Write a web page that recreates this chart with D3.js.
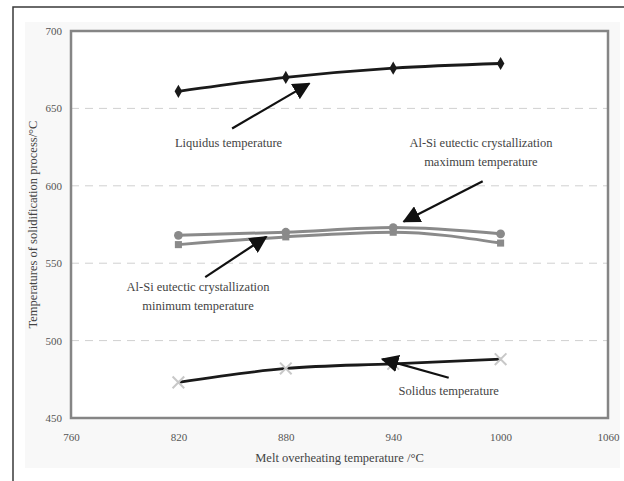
<!DOCTYPE html>
<html lang="en">
<head>
    <meta charset="UTF-8">
    <title>Solidification temperatures</title>
    <script src="https://cdn.jsdelivr.net/npm/d3@7/dist/d3.min.js"></script>
</head>
<style>
    body { margin: 0; background: #ffffff; }
    text { font-family: "Liberation Serif", "Times New Roman", serif; }
</style>
<body>
<div id="output"></div>

<script>

// melt overheating temperatures (x) and series values
var overheat = [820, 880, 940, 1000];
var liquidus = [661, 670, 676, 679];
var eutecticMax = [568, 570, 573, 569];
var eutecticMin = [562, 567, 570, 563];
var solidus = [473, 482, 485, 488];

var xTicks = [760, 820, 880, 940, 1000, 1060];
var yTicks = [450, 500, 550, 600, 650, 700];

// annotation text and arrows, in data units: [tailX, tailY, tipX, tipY]
var notes = [
    { lines: ["Liquidus temperature"], x: 848, y: 625, arrow: [850, 637, 893, 666] },
    { lines: ["Al-Si eutectic crystallization", "maximum temperature"], x: 989, y: 625, arrow: [990, 603, 946, 577] },
    { lines: ["Al-Si eutectic crystallization", "minimum temperature"], x: 831, y: 532, arrow: [835, 541, 869, 567] },
    { lines: ["Solidus temperature"], x: 971, y: 465, arrow: [971, 476, 934, 488] }
];

var w = 624, h = 481;
var plotLeft = 71, plotRight = 608, plotTop = 31, plotBottom = 418;

var svg = d3.select("#output")
        .append("svg")
        .attr("width", w)
        .attr("height", h);

// page panel and frame
svg.append("rect")
        .attr("x", 25).attr("y", 22)
        .attr("width", 595).attr("height", 446)
        .attr("fill", "#f8f8f8");
svg.append("path")
        .attr("d", "M13,481 L13,7 L624,7")
        .attr("fill", "none")
        .attr("stroke", "#3a3a3a")
        .attr("stroke-width", 1.5);

var xScale = d3.scaleLinear().domain([760, 1060]).range([plotLeft, plotRight]);
var yScale = d3.scaleLinear().domain([450, 700]).range([plotBottom, plotTop]);

svg.append("rect")
        .attr("x", plotLeft).attr("y", plotTop)
        .attr("width", plotRight - plotLeft).attr("height", plotBottom - plotTop)
        .attr("fill", "#ffffff");

// dashed grid
svg.append("g").selectAll("line")
        .data(yTicks.slice(1, -1))
        .enter().append("line")
        .attr("x1", plotLeft).attr("x2", plotRight)
        .attr("y1", function(d){ return yScale(d); })
        .attr("y2", function(d){ return yScale(d); })
        .attr("stroke", "#d0d0d0")
        .attr("stroke-width", 1)
        .attr("stroke-dasharray", "8,6");

// axes (labels only, frame drawn separately)
var yAxis = svg.append("g")
        .attr("transform", "translate(" + plotLeft + ",0)")
        .call(d3.axisLeft(yScale).tickValues(yTicks).tickFormat(d3.format("d")).tickSize(0).tickPadding(9));
var xAxis = svg.append("g")
        .attr("transform", "translate(0," + plotBottom + ")")
        .call(d3.axisBottom(xScale).tickValues(xTicks).tickFormat(d3.format("d")).tickSize(0).tickPadding(15));
[xAxis, yAxis].forEach(function(a){
    a.select(".domain").remove();
    a.selectAll("text")
            .attr("fill", "#555")
            .style("font-size", "11px")
            .style("font-family", "Liberation Serif, serif");
});

svg.append("rect")
        .attr("x", plotLeft).attr("y", plotTop)
        .attr("width", plotRight - plotLeft).attr("height", plotBottom - plotTop)
        .attr("fill", "none")
        .attr("stroke", "#858585")
        .attr("stroke-width", 2.5);

svg.append("text")
        .attr("x", (plotLeft + plotRight) / 2)
        .attr("y", 462)
        .attr("text-anchor", "middle")
        .attr("fill", "#444")
        .style("font-size", "12.5px")
        .text("Melt overheating temperature /\u00B0C");

svg.append("text")
        .attr("transform", "translate(37," + ((plotTop + plotBottom) / 2) + ") rotate(-90)")
        .attr("text-anchor", "middle")
        .attr("fill", "#444")
        .style("font-size", "12.5px")
        .text("Temperatures of solidification process/\u00B0C");

// series
var line = d3.line()
        .x(function(d, i){ return xScale(overheat[i]); })
        .y(function(d){ return yScale(d); })
        .curve(d3.curveMonotoneX);

var series = [
    { values: eutecticMin, stroke: "#8a8a8a", width: 3, symbol: d3.symbolSquare, size: 50, fill: "#8a8a8a", markerStroke: "none" },
    { values: eutecticMax, stroke: "#8a8a8a", width: 3, symbol: d3.symbolCircle, size: 60, fill: "#8a8a8a", markerStroke: "none" },
    { values: liquidus, stroke: "#1a1a1a", width: 2.8, symbol: d3.symbolDiamond, size: 50, fill: "#1a1a1a", markerStroke: "none" },
    { values: solidus, stroke: "#1a1a1a", width: 2.8, symbol: d3.symbolX, size: 90, fill: "none", markerStroke: "#c8c8c8" }
];

var chartLayer = svg.append("g");
series.forEach(function(s){
    chartLayer.append("path")
            .attr("d", line(s.values))
            .attr("fill", "none")
            .attr("stroke", s.stroke)
            .attr("stroke-width", s.width);
    chartLayer.append("g").selectAll("path")
            .data(s.values)
            .enter().append("path")
            .attr("transform", function(d, i){ return "translate(" + xScale(overheat[i]) + "," + yScale(d) + ")"; })
            .attr("d", d3.symbol().type(s.symbol).size(s.size))
            .attr("fill", s.fill)
            .attr("stroke", s.markerStroke)
            .attr("stroke-width", 2);
});

// annotations
svg.append("defs").append("marker")
        .attr("id", "head")
        .attr("viewBox", "0 0 10 10")
        .attr("refX", 9).attr("refY", 5)
        .attr("markerWidth", 8).attr("markerHeight", 8)
        .attr("markerUnits", "strokeWidth")
        .attr("orient", "auto")
        .append("path")
        .attr("d", "M0,0 L10,5 L0,10 Z")
        .attr("fill", "#111");

var noteLayer = svg.append("g");
notes.forEach(function(n){
    noteLayer.append("line")
            .attr("x1", xScale(n.arrow[0])).attr("y1", yScale(n.arrow[1]))
            .attr("x2", xScale(n.arrow[2])).attr("y2", yScale(n.arrow[3]))
            .attr("stroke", "#111")
            .attr("stroke-width", 2.2)
            .attr("marker-end", "url(#head)");
    n.lines.forEach(function(t, k){
        noteLayer.append("text")
                .attr("x", xScale(n.x))
                .attr("y", yScale(n.y) + k * 18.5)
                .attr("text-anchor", "middle")
                .attr("fill", "#444")
                .style("font-size", "12.5px")
                .text(t);
    });
});

</script>
</body>
</html>
